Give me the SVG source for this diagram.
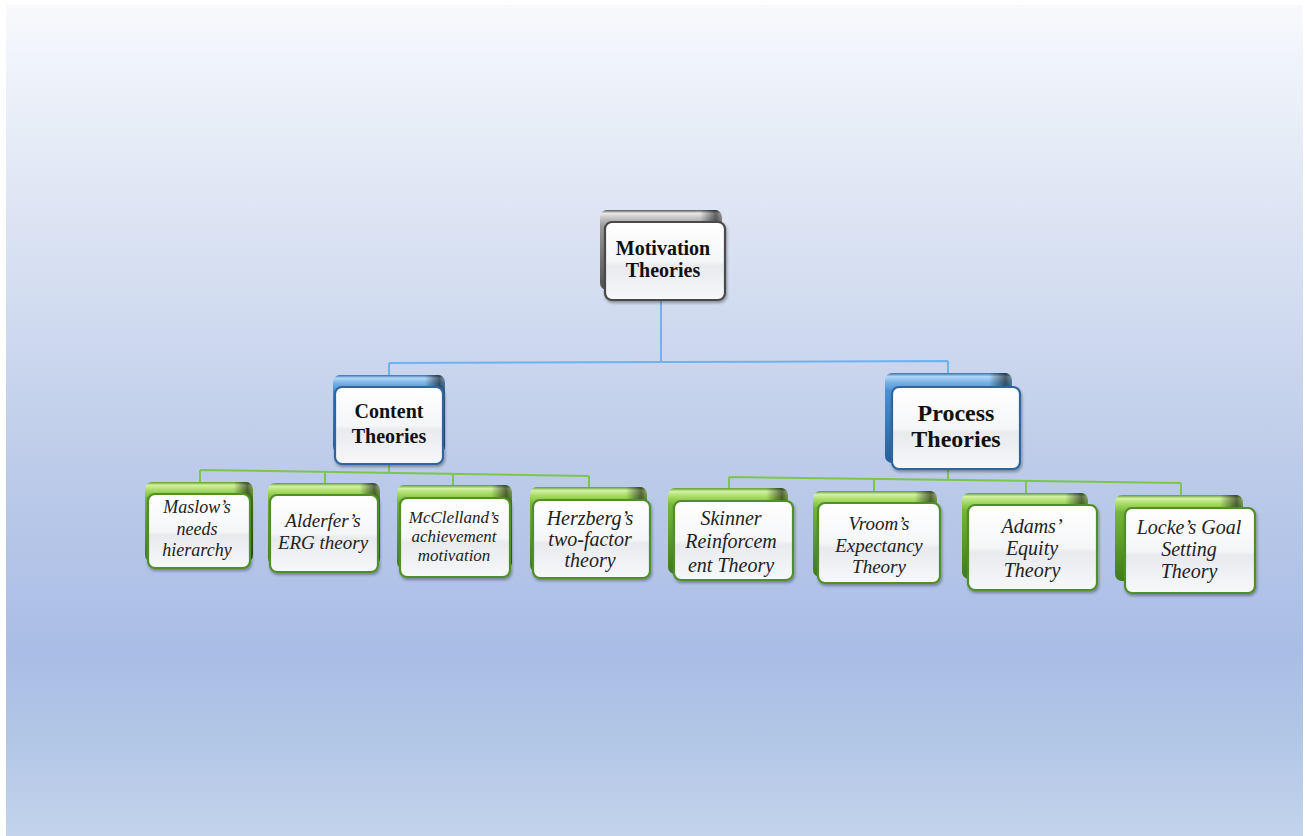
<svg xmlns="http://www.w3.org/2000/svg" width="1305" height="836" viewBox="0 0 1305 836">
<defs>
<linearGradient id="bg" x1="0" y1="0" x2="0" y2="1">
<stop offset="0" stop-color="#f8f9fc"/>
<stop offset="0.07" stop-color="#eff3fa"/>
<stop offset="0.36" stop-color="#d2dcf0"/>
<stop offset="0.56" stop-color="#bccbe9"/>
<stop offset="0.78" stop-color="#aabde6"/>
<stop offset="0.88" stop-color="#b2c6e6"/>
<stop offset="1" stop-color="#c3d3ec"/>
</linearGradient>
<linearGradient id="gGreen" x1="0" y1="0" x2="0" y2="1">
<stop offset="0" stop-color="#5e9a2c"/>
<stop offset="0.04" stop-color="#d4f0a4"/>
<stop offset="0.1" stop-color="#a8dc66"/>
<stop offset="0.2" stop-color="#74b63a"/>
<stop offset="1" stop-color="#3f7a1c"/>
</linearGradient>
<linearGradient id="gBlue" x1="0" y1="0" x2="0" y2="1">
<stop offset="0" stop-color="#3a6fa8"/>
<stop offset="0.04" stop-color="#b4d8f6"/>
<stop offset="0.1" stop-color="#7ab4e6"/>
<stop offset="0.2" stop-color="#4d8fcf"/>
<stop offset="1" stop-color="#2a5d96"/>
</linearGradient>
<linearGradient id="gGrey" x1="0" y1="0" x2="0" y2="1">
<stop offset="0" stop-color="#555"/>
<stop offset="0.04" stop-color="#e8e8e8"/>
<stop offset="0.1" stop-color="#c4c4c4"/>
<stop offset="0.2" stop-color="#9a9a9a"/>
<stop offset="1" stop-color="#505050"/>
</linearGradient>
<linearGradient id="shadeR" x1="0" y1="0" x2="1" y2="0">
<stop offset="0" stop-color="#000" stop-opacity="0"/>
<stop offset="0.82" stop-color="#000" stop-opacity="0"/>
<stop offset="0.95" stop-color="#000" stop-opacity="0.55"/>
<stop offset="1" stop-color="#000" stop-opacity="0.3"/>
</linearGradient>
<linearGradient id="face" x1="0" y1="0" x2="0" y2="1">
<stop offset="0" stop-color="#ffffff"/>
<stop offset="0.5" stop-color="#f5f6f8"/>
<stop offset="0.56" stop-color="#e8eaee"/>
<stop offset="1" stop-color="#f7f8fa"/>
</linearGradient>
<filter id="sh" x="-10%" y="-10%" width="130%" height="130%">
<feGaussianBlur in="SourceAlpha" stdDeviation="1.5"/>
<feOffset dx="1" dy="2" result="b"/>
<feComponentTransfer><feFuncA type="linear" slope="0.35"/></feComponentTransfer>
<feMerge><feMergeNode/><feMergeNode in="SourceGraphic"/></feMerge>
</filter>
</defs>
<style>
.back{rx:7px}
.gB{fill:url(#gGreen)}
.bB{fill:url(#gBlue)}
.kB{fill:url(#gGrey)}
.shade{fill:url(#shadeR);rx:7px}
.face{fill:url(#face);stroke-width:2.2;rx:7px;filter:url(#sh)}
.gF{stroke:#4f8f26}
.bF{stroke:#2f65a3}
.kF{stroke:#4a4a4a}
.hd{font-family:"Liberation Serif","Times New Roman",serif;font-weight:bold;fill:#111;text-anchor:middle}
.lf{font-family:"Liberation Serif","Times New Roman",serif;font-style:italic;fill:#222;text-anchor:middle}
.blue{fill:none;stroke:#6eb2ee;stroke-width:2}
.green{fill:none;stroke:#7cc64a;stroke-width:2}
</style>
<rect x="0" y="0" width="1305" height="836" fill="#ffffff"/>
<rect x="6" y="5" width="1297" height="831" fill="url(#bg)"/>

<g id="connectors">
<path class="blue" d="M661,300 V362 M389,363 L948,361 M389,363 V376 M948,361 V374"/>
<path class="green" d="M389,464 V472 M200,470 L589,476 M200,470 V483 M325,472 V484 M453,474 V486 M589,476 V488"/>
<path class="green" d="M948,469 V479 M729,477 L1181,483 M729,477 V489 M874,479 V491 M1026,481 V493 M1181,483 V495"/>
</g>

<g id="motivation">
<rect class="back kB" x="600" y="210" width="122" height="80"/>
<rect class="shade" x="600" y="210" width="122" height="80"/>
<rect class="face kF" x="605" y="222" width="120" height="78"/>
<text class="hd" font-size="20"><tspan x="663" y="255">Motivation</tspan><tspan x="663" y="277">Theories</tspan></text>
</g>

<g id="content">
<rect class="back bB" x="333" y="375" width="112" height="78"/>
<rect class="shade" x="333" y="375" width="112" height="78"/>
<rect class="face bF" x="335" y="387" width="108" height="77"/>
<text class="hd" font-size="20"><tspan x="389" y="418">Content</tspan><tspan x="389" y="443">Theories</tspan></text>
</g>

<g id="process">
<rect class="back bB" x="885" y="373" width="127" height="90"/>
<rect class="shade" x="885" y="373" width="127" height="90"/>
<rect class="face bF" x="892" y="387" width="128" height="82"/>
<text class="hd" font-size="24"><tspan x="956" y="421">Process</tspan><tspan x="956" y="447">Theories</tspan></text>
</g>

<g id="maslow">
<rect class="back gB" x="145" y="482" width="108" height="80"/>
<rect class="shade" x="145" y="482" width="108" height="80"/>
<rect class="face gF" x="148" y="494" width="102" height="74"/>
<text class="lf" font-size="18"><tspan x="197" y="513">Maslow’s</tspan><tspan x="197" y="535">needs</tspan><tspan x="197" y="556">hierarchy</tspan></text>
</g>

<g id="alderfer">
<rect class="back gB" x="268" y="483" width="112" height="82"/>
<rect class="shade" x="268" y="483" width="112" height="82"/>
<rect class="face gF" x="270" y="495" width="108" height="77"/>
<text class="lf" font-size="19"><tspan x="323" y="527">Alderfer’s</tspan><tspan x="323" y="549">ERG theory</tspan></text>
</g>

<g id="mcclelland">
<rect class="back gB" x="397" y="485" width="115" height="84"/>
<rect class="shade" x="397" y="485" width="115" height="84"/>
<rect class="face gF" x="400" y="498" width="110" height="79"/>
<text class="lf" font-size="17"><tspan x="454" y="523">McClelland’s</tspan><tspan x="454" y="542">achievement</tspan><tspan x="454" y="561">motivation</tspan></text>
</g>

<g id="herzberg">
<rect class="back gB" x="530" y="487" width="117" height="85"/>
<rect class="shade" x="530" y="487" width="117" height="85"/>
<rect class="face gF" x="533" y="500" width="117" height="78"/>
<text class="lf" font-size="20"><tspan x="590" y="525">Herzberg’s</tspan><tspan x="590" y="546">two-factor</tspan><tspan x="590" y="567">theory</tspan></text>
</g>

<g id="skinner">
<rect class="back gB" x="668" y="488" width="120" height="86"/>
<rect class="shade" x="668" y="488" width="120" height="86"/>
<rect class="face gF" x="674" y="501" width="119" height="79"/>
<text class="lf" font-size="20"><tspan x="731" y="525">Skinner</tspan><tspan x="731" y="548">Reinforcem</tspan><tspan x="731" y="572">ent Theory</tspan></text>
</g>

<g id="vroom">
<rect class="back gB" x="813" y="491" width="124" height="86"/>
<rect class="shade" x="813" y="491" width="124" height="86"/>
<rect class="face gF" x="818" y="503" width="122" height="80"/>
<text class="lf" font-size="19"><tspan x="879" y="530">Vroom’s</tspan><tspan x="879" y="552">Expectancy</tspan><tspan x="879" y="573">Theory</tspan></text>
</g>

<g id="adams">
<rect class="back gB" x="962" y="493" width="126" height="86"/>
<rect class="shade" x="962" y="493" width="126" height="86"/>
<rect class="face gF" x="968" y="505" width="129" height="85"/>
<text class="lf" font-size="20"><tspan x="1032" y="533">Adams’</tspan><tspan x="1032" y="555">Equity</tspan><tspan x="1032" y="577">Theory</tspan></text>
</g>

<g id="locke">
<rect class="back gB" x="1115" y="495" width="128" height="86"/>
<rect class="shade" x="1115" y="495" width="128" height="86"/>
<rect class="face gF" x="1125" y="508" width="130" height="85"/>
<text class="lf" font-size="20"><tspan x="1189" y="534">Locke’s Goal</tspan><tspan x="1189" y="556">Setting</tspan><tspan x="1189" y="578">Theory</tspan></text>
</g>
</svg>
